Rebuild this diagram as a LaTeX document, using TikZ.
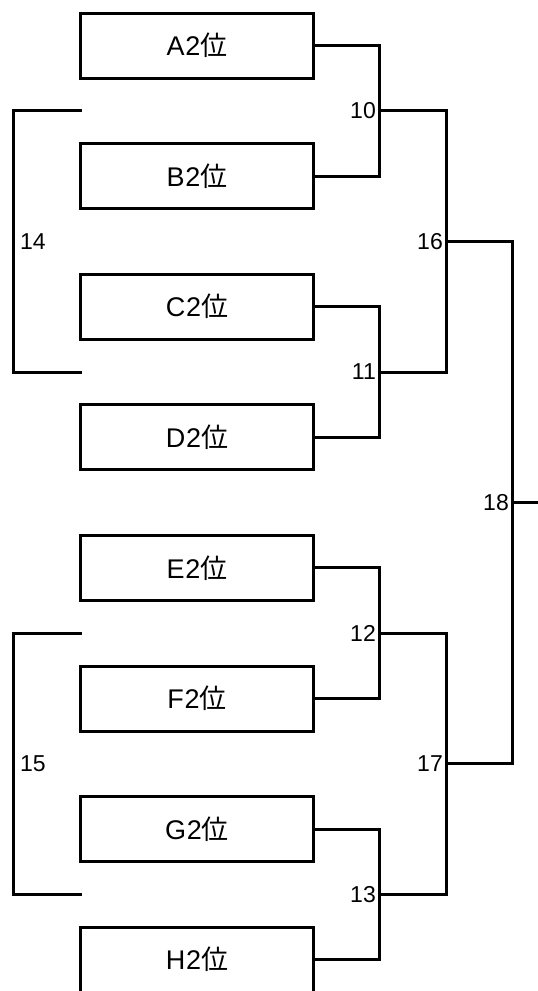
\documentclass[tikz,border=0pt]{standalone}
\usepackage{fontspec}
\newfontfamily\latf[LetterSpace=3]{Liberation Sans}
\newfontfamily\cjkf{Noto Sans CJK JP}
\newfontfamily\numfont{Liberation Sans}
\begin{document}
\begin{tikzpicture}[x=1pt,y=1pt,
  team/.style={draw, line width=3pt, minimum width=233pt, minimum height=65pt,
    inner sep=0pt, font=\fontsize{27}{27}\selectfont},
  wire/.style={line width=3pt, line cap=rect, line join=miter},
  numlbl/.style={inner sep=0pt, font=\numfont\fontsize{23}{23}\selectfont}]
\useasboundingbox (0,0) rectangle (538,-991);
\clip (0,0) rectangle (538,-991);
% teams
\node[team] (A) at (197,-45.5) {{\latf A2}{\cjkf 位}};
\node[team] (B) at (197,-176.1) {{\latf B2}{\cjkf 位}};
\node[team] (C) at (197,-306.7) {{\latf C2}{\cjkf 位}};
\node[team] (D) at (197,-437.3) {{\latf D2}{\cjkf 位}};
\node[team] (E) at (197,-567.9) {{\latf E2}{\cjkf 位}};
\node[team] (F) at (197,-698.5) {{\latf F2}{\cjkf 位}};
\node[team] (G) at (197,-829.1) {{\latf G2}{\cjkf 位}};
\node[team] (H) at (197,-959.7) {{\latf H2}{\cjkf 位}};
% match points
\coordinate (m10) at (379,-110.8);
\coordinate (m11) at (379,-372);
\coordinate (m12) at (379,-633.2);
\coordinate (m13) at (379,-894.4);
\coordinate (m16) at (446,-241.4);
\coordinate (m17) at (446,-763.8);
\coordinate (m18) at (512,-502.6);
\coordinate (fin) at (540,-502.6);
\coordinate (m14) at (13,-241.4);
\coordinate (m15) at (13,-763.8);
\coordinate (t14a) at (80,-110.8);
\coordinate (t14b) at (80,-372);
\coordinate (t15a) at (80,-633.2);
\coordinate (t15b) at (80,-894.4);
% first round
\draw[wire] (A.east) -| (m10);
\draw[wire] (B.east) -| (m10);
\draw[wire] (C.east) -| (m11);
\draw[wire] (D.east) -| (m11);
\draw[wire] (E.east) -| (m12);
\draw[wire] (F.east) -| (m12);
\draw[wire] (G.east) -| (m13);
\draw[wire] (H.east) -| (m13);
% second round
\draw[wire] (m10) -| (m16);
\draw[wire] (m11) -| (m16);
\draw[wire] (m12) -| (m17);
\draw[wire] (m13) -| (m17);
% final
\draw[wire] (m16) -| (m18);
\draw[wire] (m17) -| (m18);
\draw[wire] (m18) -- (fin);
% left brackets
\draw[wire] (t14a) -| (m14);
\draw[wire] (t14b) -| (m14);
\draw[wire] (t15a) -| (m15);
\draw[wire] (t15b) -| (m15);
% labels
\node[numlbl, anchor=east] (n10) at (376,-110.8) {10};
\node[numlbl, anchor=east] (n11) at (376,-372) {11};
\node[numlbl, anchor=east] (n12) at (376,-633.2) {12};
\node[numlbl, anchor=east] (n13) at (376,-894.4) {13};
\node[numlbl, anchor=east] (n16) at (443,-241.4) {16};
\node[numlbl, anchor=east] (n17) at (443,-763.8) {17};
\node[numlbl, anchor=east] (n18) at (509,-502.6) {18};
\node[numlbl, anchor=west] (n14) at (20,-241.4) {14};
\node[numlbl, anchor=west] (n15) at (20,-763.8) {15};
\end{tikzpicture}
\end{document}
